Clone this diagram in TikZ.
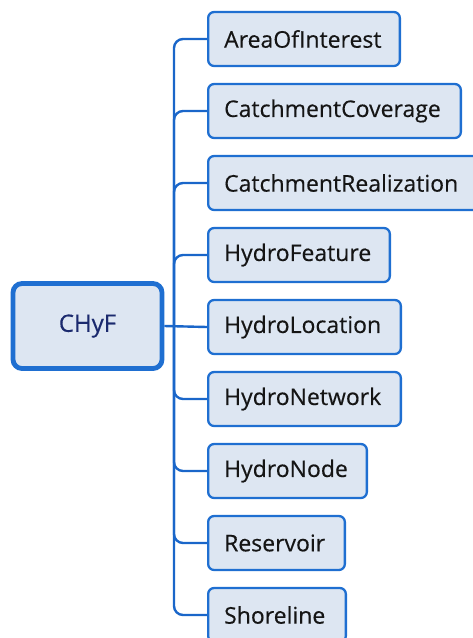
\documentclass[tikz,border=0pt]{standalone}
\usepackage{fontspec}
\setmainfont{Open Sans}[FakeBold=0.35]
\definecolor{edgeblue}{HTML}{1F6FD1}
\definecolor{wireblue}{HTML}{1A66C9}
\definecolor{boxfill}{HTML}{DDE6F2}
\definecolor{rootink}{HTML}{1B2A6E}
\definecolor{leafink}{HTML}{151515}
\tikzset{
  rootbox/.style={draw=edgeblue, line width=4.8pt, fill=boxfill, rounded corners=9pt,
    minimum width=149pt, minimum height=85pt, text=rootink,
    font=\fontsize{24pt}{28pt}\selectfont},
  leaf/.style={draw=edgeblue, line width=2.3pt, fill=boxfill, rounded corners=6pt,
    anchor=west, minimum height=54pt, inner xsep=16pt, align=left,
    text width=#1-34.3pt, text=leafink,
    font=\fontsize{23pt}{27pt}\selectfont},
  wire/.style={draw=wireblue, line width=2.4pt, rounded corners=9pt}
}
\begin{document}
\begin{tikzpicture}[x=1pt,y=-1pt]
\useasboundingbox (0,0) rectangle (472,638);
% root
\node[rootbox] (root) at (87.5,326) {CHyF};
% leaves
\node[leaf=194] (l1) at (207,39)  {AreaOfInterest};
\node[leaf=255] (l2) at (207,111) {CatchmentCoverage};
\node[leaf=290] (l3) at (207,183) {CatchmentRealization};
\node[leaf=184] (l4) at (207,255) {HydroFeature};
\node[leaf=195] (l5) at (207,327) {HydroLocation};
\node[leaf=195] (l6) at (207,399) {HydroNetwork};
\node[leaf=161] (l7) at (207,471) {HydroNode};
\node[leaf=139] (l8) at (207,543) {Reservoir};
\node[leaf=140] (l9) at (207,615) {Shoreline};
% trunk and branches
\coordinate (trunk) at (174,327);
\draw[wire] (root.east) -- (l5.west);
\foreach \n in {l1,l2,l3,l4,l6,l7,l8,l9}
  \draw[wire] (trunk) |- (\n.west);
\end{tikzpicture}
\end{document}
